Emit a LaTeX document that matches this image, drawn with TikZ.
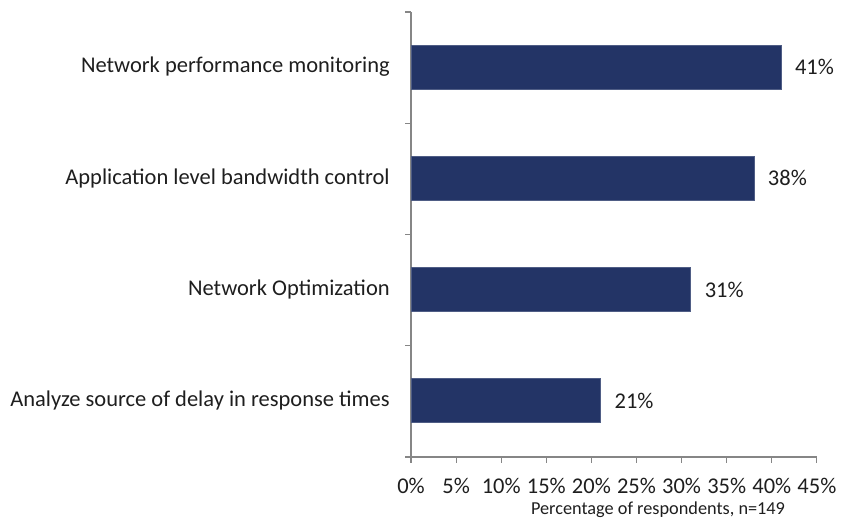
\documentclass[tikz,border=0pt]{standalone}
\usepackage{fontspec}
\setmainfont{Carlito}
\definecolor{barblue}{RGB}{35,52,102}
\definecolor{axisgray}{RGB}{134,134,134}
\definecolor{labelgray}{RGB}{30,30,30}
\begin{document}
\begin{tikzpicture}[x=0.02cm,y=-0.02cm,
    axisline/.style={axisgray, line width=0.6pt},
    bar/.style={fill=barblue, draw=barblue!80!white, line width=0.3pt},
    catlabel/.style={anchor=east, inner sep=0pt, text=labelgray, font=\fontsize{12.8}{15}\selectfont},
    vallabel/.style={anchor=west, text=labelgray, font=\fontsize{12.8}{15}\selectfont},
    ticklabel/.style={text=labelgray, font=\fontsize{12.8}{15}\selectfont}]
    \useasboundingbox (0,0) rectangle (847,518);

    % axes
    \draw[axisline] (411,12) -- (411,457) -- (817,457);
    \foreach \i in {0,...,4}
        \draw[axisline] (405,12+111.25*\i) -- (411,12+111.25*\i);
    \foreach \p in {0,5,...,45} {
        \draw[axisline] (411+9.02*\p,457) -- (411+9.02*\p,463);
        \node[ticklabel] (tick\p) at (411+9.02*\p,486) {\p\%};
    }
    \node[text=labelgray, font=\fontsize{10.4}{12}\selectfont] (xtitle) at (658,510) {Percentage of respondents, n=149};

    % bars, top to bottom
    \foreach \v/\name [count=\i from 0] in {41/Network performance monitoring,
                                            38/Application level bandwidth control,
                                            31/Network Optimization,
                                            21/Analyze source of delay in response times} {
        \draw[bar] (411,45+111.25*\i) rectangle (411+9.02*\v,89+111.25*\i);
        \node[catlabel] (cat\i) at (390,67+111.25*\i) {\name};
        \node[vallabel] (val\i) at (411+9.02*\v+8,67+111.25*\i) {\v\%};
    }
\end{tikzpicture}
\end{document}
